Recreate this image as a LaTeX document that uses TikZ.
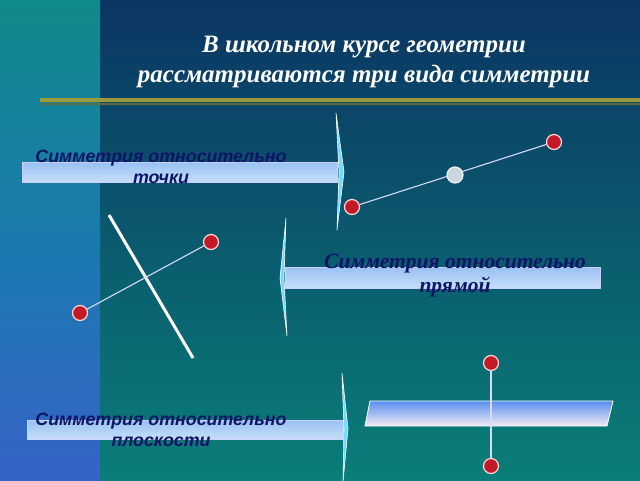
\documentclass[tikz,border=0pt]{standalone}
\usepackage{fontspec}
\setmainfont{Liberation Serif}
\newfontfamily\sansf{Liberation Sans}
\definecolor{navytop}{HTML}{0B3563}
\definecolor{tealbot}{HTML}{0A7E78}
\definecolor{stripTop}{HTML}{108A8A}
\definecolor{stripMid}{HTML}{1A7AAE}
\definecolor{stripBot}{HTML}{3663C8}
\definecolor{olive}{HTML}{9C9A3C}
\definecolor{oliveDark}{HTML}{5F6A44}
\definecolor{labelblue}{HTML}{0E1466}
\definecolor{dotred}{HTML}{C41A28}
\definecolor{barTop}{HTML}{98C2F2}
\definecolor{barBot}{HTML}{C6DEF8}
\definecolor{planeTop}{HTML}{5A8EF0}
\definecolor{planeBot}{HTML}{F2EAF4}
\definecolor{midgray}{HTML}{CAD6DE}
\begin{document}
\begin{tikzpicture}[x=1pt,y=-1pt,
  dot/.style={circle,fill=dotred,draw=white!85!red,line width=1.2pt,minimum size=15pt,inner sep=0pt},
  middot/.style={circle,fill=midgray,draw=white!90!gray,line width=1.2pt,minimum size=16pt,inner sep=0pt},
  seg/.style={draw=white!85!blue,line width=1.1pt},
  barfill/.style={top color=barTop,bottom color=barBot,draw=white!80!blue,line width=0.6pt},
  headfill/.style={fill=white!75!blue!60!cyan,draw=white,line width=0.6pt},
  sanslabel/.style={text=labelblue,align=center,font=\sansf\bfseries\itshape\fontsize{17.8}{21}\selectfont,inner sep=0pt},
  seriflabel/.style={text=labelblue,align=center,font=\bfseries\itshape\fontsize{21.5}{24}\selectfont,inner sep=0pt},
  titletext/.style={text=white,align=center,font=\bfseries\itshape\fontsize{25}{30}\selectfont,inner sep=0pt}]
\useasboundingbox (0,0) rectangle (640,480);
% background
\shade[top color=navytop,bottom color=tealbot,middle color=navytop!50!tealbot] (100,0) rectangle (640,480);
\shade[top color=stripTop,bottom color=stripBot,middle color=stripMid] (0,0) rectangle (100,480);
% title
\node[titletext] (title) at (364,62) {В школьном курсе геометрии\\рассматриваются три вида симметрии};
\draw[olive,line width=4.5pt] (40,100) -- (640,100);
\draw[oliveDark,line width=1.5pt] (42,104) -- (640,104);
% arrow 1 (right)
\path[barfill] (22,162) rectangle (337,182);
\path[headfill] (336,113) -- (344,172) -- (337,230) -- (339,172) -- cycle;
\node[sanslabel] (lab1) at (161,167) {Симметрия относительно\\точки};
% point symmetry
\node[dot] (a1) at (352,207) {};
\node[dot] (a2) at (554,142) {};
\draw[seg] (a1) -- (a2);
\node[middot] (a0) at (455,175) {};
% arrow 2 (left)
\path[barfill] (285,267) rectangle (600,288);
\path[headfill] (286,218) -- (280,278) -- (287,336) -- (284,278) -- cycle;
\node[seriflabel] (lab2) at (455,276) {Симметрия относительно\\прямой};
% line symmetry
\coordinate (l1) at (109,215);
\coordinate (l2) at (193,358);
\draw[white,line width=3pt] (l1) -- (l2);
\node[dot] (b1) at (80,313) {};
\node[dot] (b2) at (211,242) {};
\draw[seg] (b1) -- (b2);
% arrow 3 (right)
\path[barfill] (27,420) rectangle (343,439);
\path[headfill] (342,373) -- (348,429) -- (343,482) -- (344,429) -- cycle;
\node[sanslabel] (lab3) at (161,430) {Симметрия относительно\\плоскости};
% plane symmetry
\path[top color=planeTop,bottom color=planeBot,draw=white,line width=0.8pt] (370,401) -- (613,401) -- (607,426) -- (365,426) -- cycle;
\node[dot] (c1) at (491,363) {};
\node[dot] (c2) at (491,466) {};
\draw[seg] (c1) -- (c2);
\end{tikzpicture}
\end{document}
